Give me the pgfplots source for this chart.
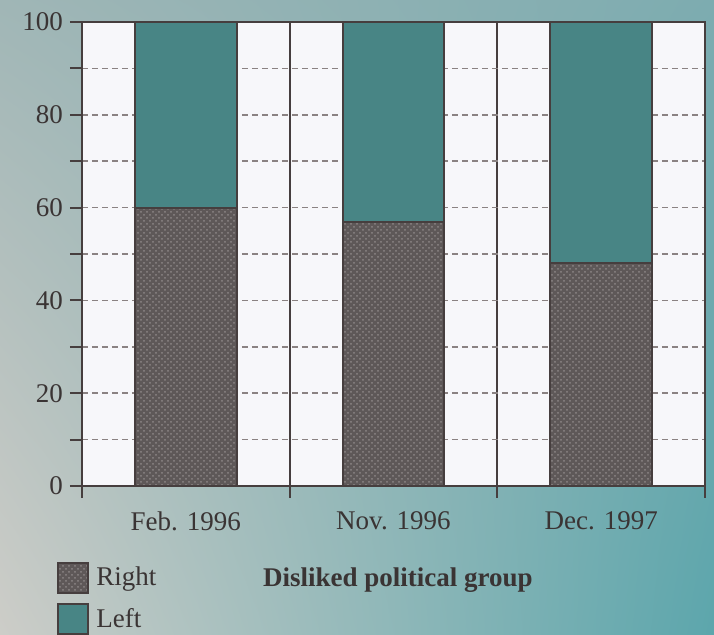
\documentclass[border=0pt]{standalone}
\usepackage{pgfplots}
\pgfplotsset{compat=1.18}
\usetikzlibrary{shadings,patterns}
\usepackage{fontspec}
\setmainfont{Liberation Serif}
\definecolor{leftc}{HTML}{488585}
\definecolor{rightc}{HTML}{5E5858}
\definecolor{hatchc}{HTML}{8C8686}
\definecolor{framec}{HTML}{463E3E}
\definecolor{gridc}{HTML}{8A8282}
\definecolor{txtc}{HTML}{3A3434}
\definecolor{plotbg}{HTML}{F7F7FA}
\definecolor{bgul}{RGB}{160,182,182}
\definecolor{bgur}{RGB}{125,172,176}
\definecolor{bgll}{RGB}{205,205,200}
\definecolor{bglr}{RGB}{92,166,172}
\pgfplotstableread{
x right left
0 60 40
1 57 43
2 48 52
}\datatable
\begin{document}
\begin{tikzpicture}
\useasboundingbox (-41pt,-74.5pt) rectangle (316pt,243pt);
\clip (-41pt,-74.5pt) rectangle (316pt,243pt);
\shade[upper left=bgul, upper right=bgur, lower left=bgll, lower right=bglr]
  (-41pt,-74.5pt) rectangle (316pt,243pt);
\begin{axis}[
  at={(0,0)}, anchor=south west,
  scale only axis, width=311.5pt, height=232pt,
  ybar stacked, bar width=0.49,
  xmin=-0.5, xmax=2.5, ymin=0, ymax=100,
  xtick={-0.5,0.5,1.5,2.5}, xticklabels={},
  extra x ticks={0,1,2},
  extra x tick labels={Feb. 1996,Nov. 1996,Dec. 1997},
  extra x tick style={major tick length=0pt, grid=none,
     xticklabel style={yshift=-9.5pt}},
  ytick={0,20,...,100}, minor ytick={10,30,...,90},
  tick pos=left,
  tick align=outside, major tick length=6pt, minor tick length=6pt,
  tick style={framec, line width=1pt},
  xmajorgrids, ymajorgrids, yminorgrids,
  x grid style={framec, line width=1pt},
  y grid style={gridc, line width=0.8pt, densely dashed},
  minor grid style={gridc, line width=0.8pt, densely dashed},
  axis line style={framec, line width=1.1pt},
  axis background/.style={fill=plotbg},
  /pgf/number format/assume math mode=true,
  ticklabel style={font=\fontsize{13.5}{16}\selectfont, text=txtc},
  xlabel={Disliked political group},
  xlabel style={font=\fontsize{13.5}{16}\selectfont\bfseries, text=txtc,
     at={(axis description cs:0.507,-0.203)}, anchor=center},
  legend style={at={(axis description cs:-0.04,-0.158)}, anchor=north west,
     draw=none, fill=none, font=\fontsize{13.5}{16}\selectfont, text=txtc,
     legend cell align=left, row sep=3pt, inner sep=0pt,
     nodes={inner sep=3.5pt, xshift=2pt}},
  legend image code/.code={\draw[#1, line width=1pt] (-2pt,-7.5pt) rectangle (13pt,7.5pt);},
]
\addplot[fill=rightc, draw=framec, line width=1pt,
  postaction={pattern=crosshatch dots, pattern color=hatchc}] table[x=x,y=right] {\datatable};
\addplot[fill=leftc, draw=framec, line width=1pt] table[x=x,y=left] {\datatable};
\legend{Right,Left}
\end{axis}
\end{tikzpicture}
\end{document}
